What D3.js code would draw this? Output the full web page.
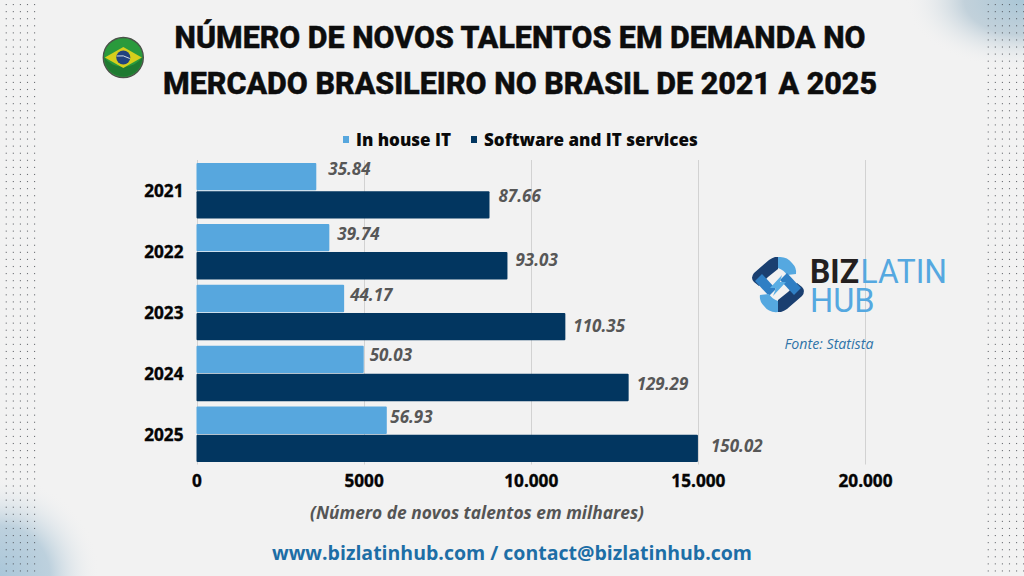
<!DOCTYPE html>
<html><head><meta charset="utf-8">
<script src="https://cdn.jsdelivr.net/npm/d3@7"></script>
<style>html,body{margin:0;padding:0;background:#f2f2f2}svg{display:block}text{font-family:"Open Sans",sans-serif}</style>
</head><body><svg id="c" width="1024" height="576"></svg>
<script>
const titleLines=["NÚMERO DE NOVOS TALENTOS EM DEMANDA NO","MERCADO BRASILEIRO NO BRASIL DE 2021 A 2025"];
const years=["2021","2022","2023","2024","2025"];
const seriesNames=["In house IT","Software and IT services"];
const inHouse=[35.84,39.74,44.17,50.03,56.93];
const software=[87.66,93.03,110.35,129.29,150.02];
const tickValues=[0,50,100,150,200];
const tickLabels=["0","5000","10.000","15.000","20.000"];
const colors=["#57a7de","#023660"];
const labelNudge=[[[12,-8],[8,-4],[6,-3],[6,-4],[3.5,-3]],[[9,-8.5],[8,-6],[8,-1],[8,-4],[13,-2]]];
const svg=d3.select("#c");
const defs=svg.append("defs");
const tr=defs.append("radialGradient").attr("id","tr").attr("cx",1).attr("cy",0).attr("r",1);
tr.append("stop").attr("offset",0).attr("stop-color","#a9c6d6");
tr.append("stop").attr("offset",.5).attr("stop-color","#b6c9d5").attr("stop-opacity",.8);
tr.append("stop").attr("offset",1).attr("stop-color","#f2f2f2").attr("stop-opacity",0);
const bl=defs.append("radialGradient").attr("id","bl").attr("cx",0).attr("cy",1).attr("r",1);
bl.append("stop").attr("offset",0).attr("stop-color","#a9c6d9");
bl.append("stop").attr("offset",.5).attr("stop-color","#b4cbda").attr("stop-opacity",.85);
bl.append("stop").attr("offset",1).attr("stop-color","#f2f2f2").attr("stop-opacity",0);
svg.append("rect").attr("width",1024).attr("height",576).attr("fill","#f2f2f2");
svg.append("rect").attr("x",905).attr("y",0).attr("width",119).attr("height",70).attr("fill","url(#tr)");
svg.append("rect").attr("x",0).attr("y",476).attr("width",100).attr("height",100).attr("fill","url(#bl)");
// dot texture
const dotsG=svg.append("g").attr("fill","#4a4e54");
for(const x0 of [6.2,988.2]){
  for(let i=0;i<6;i++)for(let j=0;j<81;j++){
    const x=x0+i*7.08,y=4.5+j*7.08;
    if(x>1024||(x0<100&&i==5))continue;
    dotsG.append("rect").attr("x",x-.5).attr("y",y-.5).attr("width",1.1).attr("height",1.1).attr("opacity",.8);
  }
}
// title
svg.append("g").selectAll("text").data(titleLines).join("text")
  .attr("x",520).attr("y",(d,i)=>i?94:48).attr("text-anchor","middle")
  .style("font-family","Roboto,sans-serif").attr("font-weight",800).attr("font-size",32).attr("fill","#0d0d0d")
  .attr("stroke","#0d0d0d").attr("stroke-width",.5)
  .attr("textLength",(d,i)=>i?714:691).attr("lengthAdjust","spacingAndGlyphs").text(d=>d);
// flag
const f=svg.append("g").attr("transform","translate(123.3,57.5)");
f.append("circle").attr("r",20).attr("fill","#2a9a3c").attr("stroke","#4b5249").attr("stroke-width",1.4);
f.append("path").attr("d","M-19,0A19,19 0 0 0 19,0A24,24 0 0 1 -19,0Z").attr("fill","#1f7a31");
f.append("path").attr("d","M-18.5,0L0,-10.5L18.5,0L0,10.5Z").attr("fill","#d6cf1c");
f.append("circle").attr("r",7).attr("fill","#21427f");
f.append("path").attr("d","M-6.5,-1.5Q0,-3 6.5,1").attr("stroke","#e8eef0").attr("stroke-width",.9).attr("fill","none");
// legend
const legX=[342,470],legT=[356,484];
seriesNames.forEach((s,i)=>{
  svg.append("rect").attr("x",legX[i]+1).attr("y",136).attr("width",6).attr("height",7).attr("fill",colors[i]);
  svg.append("text").attr("x",legT[i]).attr("y",146).attr("font-size",17).attr("font-weight",800).attr("fill","#0a0a0a").text(s);
});
// scales
const x=d3.scaleLinear().domain([0,200]).range([196.5,865]);
const y=d3.scaleBand().domain(years).range([160,464.5]);
const inner=d3.scaleBand().domain(seriesNames).range([3,58.5]).paddingInner(0.03);
// grid
svg.append("g").selectAll("line").data(tickValues).join("line")
  .attr("x1",d=>Math.round(x(d))+.5).attr("x2",d=>Math.round(x(d))+.5).attr("y1",160).attr("y2",464.5)
  .attr("stroke","#d2d2d2").attr("stroke-width",1);
// axis
const xAxis=d3.axisBottom(x).tickValues(tickValues).tickFormat((d,i)=>tickLabels[i]).tickSize(0).tickPadding(0);
const ax=svg.append("g").attr("transform","translate(0,470)").call(xAxis);
ax.select(".domain").remove();
ax.selectAll("text").style("font-family",'"Open Sans",sans-serif').attr("font-size",17.2).attr("font-weight",700).attr("fill","#050505").attr("stroke","#050505").attr("stroke-width",.35).attr("dy","1em");
const yAxis=d3.axisLeft(y).tickSize(0).tickPadding(13);
const ay=svg.append("g").attr("transform","translate(196.5,1.5)").call(yAxis);
ay.select(".domain").remove();
ay.selectAll("text").style("font-family",'"Open Sans",sans-serif').attr("font-size",17.2).attr("font-weight",700).attr("fill","#050505").attr("stroke","#050505").attr("stroke-width",.35);
// bars
[inHouse,software].forEach((vals,k)=>{
  const g=svg.append("g");
  g.selectAll("rect").data(vals).join("rect")
    .attr("x",x(0)).attr("y",(d,i)=>y(years[i])+inner(seriesNames[k]))
    .attr("width",d=>x(d)-x(0)).attr("height",inner.bandwidth())
    .attr("rx",1).attr("fill",colors[k]);
  g.selectAll("text").data(vals).join("text")
    .attr("x",(d,i)=>x(d)+labelNudge[k][i][0])
    .attr("y",(d,i)=>y(years[i])+inner(seriesNames[k])+inner.bandwidth()/2+labelNudge[k][i][1]+6)
    .attr("font-size",17).attr("font-style","italic").attr("font-weight",700).attr("fill","#575757")
    .text(d=>d.toFixed(2));
});
// axis caption
svg.append("text").attr("x",477).attr("y",519).attr("text-anchor","middle").attr("font-size",17).attr("font-style","italic").attr("font-weight",700).attr("fill","#555").attr("textLength",334).attr("lengthAdjust","spacingAndGlyphs").text("(Número de novos talentos em milhares)");
// footer
svg.append("text").attr("x",512).attr("y",560).attr("text-anchor","middle").attr("font-size",19.5).attr("font-weight",700).attr("fill","#1d6ea6").text("www.bizlatinhub.com / contact@bizlatinhub.com");
// logo
const half=svg.append("g");
const drawHalf=(g)=>{
  g.append("path").attr("d","M778,257L775,257Q772,258 769,260L754,273Q750,278 754,282L759,286L768,277L778,269Z").attr("fill","#1a3f70");
  g.append("path").attr("d","M755,281L762,274L776,289L769,296Z").attr("fill","#2f7fc4");
  g.append("path").attr("d","M778,257Q787,256 792,263Q797,268 796,274L787,275Q784,270 778,268Z").attr("fill","#55a8e0");
};
drawHalf(half.append("g"));
drawHalf(half.append("g").attr("transform","rotate(180,778,284.5)"));
half.append("path").attr("d","M782,275L770,288L776,288L773,296L786,282L780,282Z").attr("fill","#5aaee4");
svg.append("text").attr("x",810).attr("y",282.5).style("font-family","Roboto,sans-serif").attr("font-size",32.5).attr("font-weight",700).attr("fill","#231f20").attr("textLength",49).attr("lengthAdjust","spacingAndGlyphs").text("BIZ");
svg.append("text").attr("x",860.5).attr("y",282.5).style("font-family","Roboto,sans-serif").attr("font-size",32.5).attr("font-weight",400).attr("fill","#55a8e0").attr("textLength",86.5).attr("lengthAdjust","spacingAndGlyphs").text("LATIN");
svg.append("text").attr("x",810).attr("y",312).style("font-family","Roboto,sans-serif").attr("font-size",32.5).attr("font-weight",400).attr("fill","#55a8e0").text("HUB");
svg.append("text").attr("x",829).attr("y",349).attr("text-anchor","middle").attr("font-size",14.2).attr("font-style","italic").attr("fill","#2f74a8").text("Fonte: Statista");
</script></body></html>
